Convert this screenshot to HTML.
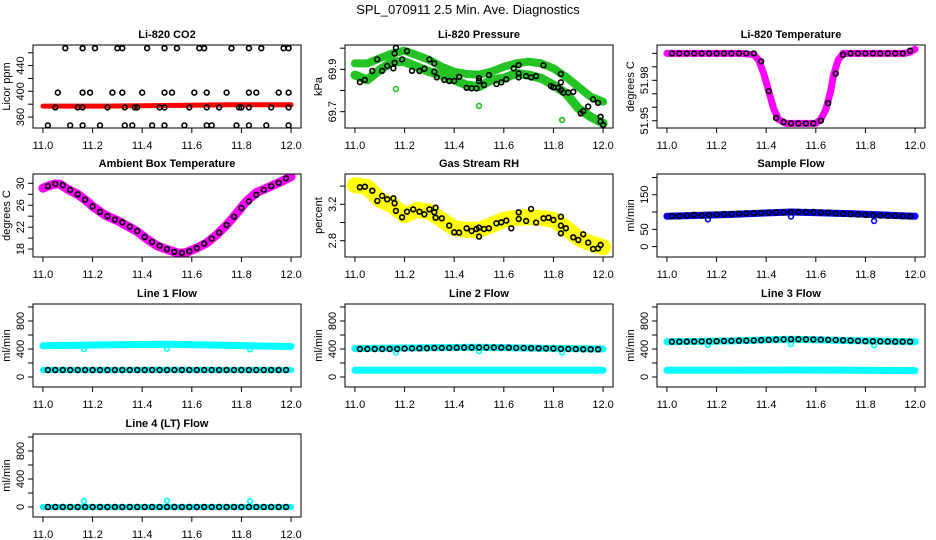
<!DOCTYPE html>
<html><head><meta charset="utf-8">
<style>
html,body{margin:0;padding:0;background:#fff;}
svg{display:block;font-family:"Liberation Sans",Arial,sans-serif;}
</style></head>
<body>
<svg id="chart" width="936" height="540" viewBox="0 0 936 540" xmlns="http://www.w3.org/2000/svg">
<rect x="0" y="0" width="936" height="540" fill="#fff"/>
<text x="468" y="14" text-anchor="middle" font-size="13">SPL_070911  2.5 Min. Ave. Diagnostics</text>
</svg>
<script>
// ---- shared x axis ----
const xTicks = [11.0, 11.2, 11.4, 11.6, 11.8, 12.0];
const xTickLabels = ["11.0", "11.2", "11.4", "11.6", "11.8", "12.0"];
const tGrid = [11.02,11.05,11.08,11.11,11.14,11.17,11.20,11.23,11.26,11.29,11.32,11.35,11.38,11.41,11.44,11.47,11.50,11.53,11.56,11.59,11.62,11.65,11.68,11.71,11.74,11.77,11.80,11.83,11.86,11.89,11.92,11.95,11.98];
const bandX5 = [11.0, 11.25, 11.5, 11.75, 12.0];
const bandX21 = [11.00,11.05,11.10,11.15,11.20,11.25,11.30,11.35,11.40,11.45,11.50,11.55,11.60,11.65,11.70,11.75,11.80,11.85,11.90,11.95,12.00];

// ---- CO2 ----
const co2Band = [377, 377, 378, 379, 379];
const co2X1 = [11.09,11.16,11.21,11.30,11.32,11.42,11.49,11.54,11.63,11.65,11.76,11.83,11.88,11.97,11.99];
const co2Y1 = [467,467,467,467,467,467,467,467,467,467,467,467,467,467,467];
const co2X2 = [11.06,11.16,11.19,11.28,11.32,11.40,11.49,11.52,11.61,11.66,11.74,11.83,11.86,11.95,11.99];
const co2Y2 = [398,398,398,398,398,398,398,398,398,398,398,398,398,398,398];
const co2X3 = [11.05,11.14,11.16,11.26,11.33,11.37,11.38,11.47,11.49,11.59,11.66,11.71,11.79,11.80,11.83,11.92,11.99];
const co2Y3 = [375,375,375,375,375,375,375,375,375,375,375,375,375,375,375,375,375];
const co2X4 = [11.02,11.11,11.16,11.23,11.33,11.36,11.44,11.49,11.57,11.66,11.68,11.78,11.83,11.90,11.99];
const co2Y4 = [347,347,347,347,347,347,347,347,347,347,347,347,347,347,347];

// ---- Pressure ----
const presUpper = [69.928,69.928,69.952,69.975,69.988,69.967,69.944,69.912,69.889,69.878,69.875,69.889,69.912,69.928,69.936,69.928,69.905,69.865,69.818,69.771,69.747];
const presLower = [69.873,69.850,69.897,69.936,69.936,69.912,69.889,69.873,69.850,69.826,69.818,69.850,69.858,69.881,69.873,69.858,69.826,69.787,69.716,69.676,69.645];
const presOutX = [11.165, 11.50, 11.835];
const presOutY = [69.807, 69.728, 69.661];
const presX = [11.02,11.04,11.07,11.09,11.11,11.13,11.155,11.16,11.16,11.165,11.19,11.21,11.23,11.26,11.28,11.30,11.32,11.32,11.33,11.36,11.38,11.40,11.42,11.45,11.47,11.49,11.50,11.50,11.52,11.54,11.57,11.59,11.61,11.64,11.66,11.66,11.66,11.69,11.71,11.73,11.76,11.79,11.80,11.82,11.83,11.83,11.83,11.84,11.86,11.88,11.91,11.92,11.94,11.96,11.98,11.99,11.99,12.0];
const presY = [69.840,69.850,69.892,69.947,69.893,69.916,69.905,69.931,69.975,70.002,69.947,69.986,69.893,69.892,69.903,69.947,69.928,69.889,69.862,69.850,69.845,69.845,69.865,69.813,69.810,69.810,69.858,69.845,69.826,69.873,69.831,69.839,69.853,69.905,69.920,69.881,69.862,69.868,69.862,69.868,69.919,69.821,69.815,69.813,69.878,69.839,69.802,69.790,69.790,69.794,69.692,69.703,69.724,69.758,69.742,69.676,69.653,69.637];

// ---- Li-820 Temperature ----
const tempCurveX = [11.00,11.30,11.35,11.37,11.39,11.41,11.43,11.45,11.48,11.60,11.62,11.64,11.66,11.67,11.69,11.71,11.96,11.98,12.00];
const tempCurveY = [52.000,52.000,51.999,51.995,51.985,51.972,51.959,51.951,51.948,51.948,51.951,51.958,51.972,51.983,51.995,52.000,52.000,52.001,52.003];
const tempBlack = [52.000,52.000,52.000,52.000,52.000,52.000,52.000,52.000,52.000,52.000,52.000,52.000,51.994,51.972,51.952,51.949,51.948,51.948,51.948,51.948,51.950,51.963,51.985,51.999,52.000,52.000,52.000,52.000,52.000,52.000,52.000,52.000,52.002];

// ---- Ambient ----
const ambX = [11.00,11.02,11.05,11.07,11.10,11.14,11.17,11.20,11.25,11.30,11.34,11.38,11.42,11.46,11.50,11.55,11.58,11.62,11.66,11.70,11.74,11.78,11.82,11.86,11.90,11.95,12.00];
const ambY = [29.1,29.5,29.9,29.8,28.9,28.0,27.0,25.8,24.2,23.2,22.2,21.2,19.8,18.6,17.9,17.2,17.4,18.2,19.1,20.6,22.4,24.5,26.7,28.3,29.1,30.1,31.2];
const ambBlack = [29.5,29.9,29.7,28.8,28.0,27.0,25.8,24.8,24.0,23.4,22.9,22.1,21.3,20.2,19.3,18.6,18.0,17.5,17.3,17.6,18.2,19.0,19.9,21.0,22.4,23.9,25.5,26.7,27.9,28.8,29.5,30.1,30.9];

// ---- RH ----
const rhBand = [3.41,3.39,3.25,3.19,3.08,3.14,3.12,3.03,2.94,2.92,2.92,2.97,3.03,3.05,3.06,3.05,3.03,2.94,2.83,2.77,2.73];
const rhX = [11.02,11.04,11.07,11.09,11.11,11.13,11.155,11.16,11.165,11.19,11.21,11.235,11.26,11.28,11.30,11.32,11.325,11.325,11.35,11.38,11.40,11.42,11.45,11.47,11.49,11.50,11.50,11.52,11.54,11.57,11.59,11.61,11.63,11.66,11.66,11.69,11.71,11.73,11.76,11.78,11.80,11.83,11.83,11.83,11.85,11.88,11.90,11.92,11.94,11.96,11.98,11.99];
const rhY = [3.387,3.394,3.350,3.237,3.292,3.255,3.266,3.211,3.127,3.057,3.119,3.145,3.119,3.090,3.145,3.112,3.163,3.053,3.046,2.966,2.892,2.889,2.936,2.907,2.929,2.944,2.845,2.929,2.936,2.991,3.002,3.021,2.936,3.112,3.039,3.017,3.149,2.999,3.046,3.053,3.028,3.064,2.966,2.881,2.936,2.837,2.808,2.870,2.779,2.709,2.716,2.753];

// ---- Sample flow ----
const sfBand = [88, 93, 100, 95, 88];
const sfOutX = [11.165, 11.50, 11.835];
const sfOutY = [79, 87, 74];
const sfBlack = [88,88,90,92,90,91,93,94,94,95,96,97,97,98,99,99,100,100,100,100,99,98,96,95,94,93,92,91,90,89,89,88,87];

// ---- Line flows ----
const l1Upper = [445, 458, 468, 452, 435];
const l1Lower = [100, 100, 102, 100, 100];
const l1Black = [100,100,100,100,100,100,100,100,100,100,100,100,100,100,100,100,100,100,100,100,100,100,100,100,100,100,100,100,100,100,100,100,100];
const l1OutY = [400, 405, 395];
const l2Upper = [405, 415, 425, 410, 400];
const l2Lower = [95, 95, 97, 95, 95];
const l2Black = [400,400,400,400,400,402,405,408,410,412,414,415,416,418,420,421,422,422,421,420,418,416,414,412,410,408,405,402,400,398,396,395,395];
const l2OutY = [350, 370, 350];
const l3Upper = [505, 515, 540, 520, 505];
const l3Lower = [95, 97, 100, 97, 92];
const l3Black = [505,505,506,507,508,510,512,514,516,518,520,522,526,530,534,537,540,540,538,536,534,532,528,524,520,516,512,510,508,506,505,505,505];
const l3OutY = [460, 470, 455];
const l4Band = [0, 0, 0, 0, 0];
const l4Black = [0,0,0,0,0,0,0,0,0,0,0,0,0,0,0,0,0,0,0,0,0,0,0,0,0,0,0,0,0,0,0,0,0];
const l4OutY = [85, 90, 82];
const outX = [11.165, 11.50, 11.835];
const flowTicks = [0, 200, 400, 600, 800, 1000];
const flowLabels = [0, 400, 800];

const NS = "http://www.w3.org/2000/svg";
const svg = document.getElementById("chart");
function mk(tag, attrs, parent) {
  const e = document.createElementNS(NS, tag);
  for (const k in attrs) e.setAttribute(k, attrs[k]);
  (parent || svg).appendChild(e);
  return e;
}
const W = 268, H = 83, XD = [10.96, 12.04];

function panel(cfg) {
  const g = mk("g", {});
  
  
  const L = cfg.L, T = cfg.T;
  const sx = v => L + (v - XD[0]) / (XD[1] - XD[0]) * W;
  const sy = v => T + H - (v - cfg.yd[0]) / (cfg.yd[1] - cfg.yd[0]) * H;
  // title
  const tt = mk("text", {x: L + W / 2, y: T - 7, "text-anchor": "middle", "font-size": 11, "font-weight": "bold"}, g);
  tt.textContent = cfg.title;
  
  
  // y label
  const yl = mk("text", {x: 0, y: 0, "text-anchor": "middle", "font-size": 11, transform: `translate(${L - 23},${T + H / 2}) rotate(-90)`}, g);
  yl.textContent = cfg.ylab;
  
  
  // clip
  const cid = "clip-" + cfg.name;
  const cp = mk("clipPath", {id: cid}, g);
  mk("rect", {x: L, y: T, width: W, height: H}, cp);
  const plot = mk("g", {"clip-path": `url(#${cid})`}, g);
  
  
  // bands
  (cfg.bands || []).forEach(b => {
    const pts = b.x.map((xv, i) => sx(xv).toFixed(1) + "," + sy(b.y[i]).toFixed(1)).join(" ");
    const pl = mk("polyline", {points: pts, fill: "none", stroke: b.c, "stroke-width": b.w, "stroke-linecap": "round", "stroke-linejoin": "round"}, plot);
    
    
  });
  // points
  (cfg.pts || []).forEach(p => {
    const n = Math.min(p.x.length, p.y.length);
    for (let i = 0; i < n; i++) {
      const c = mk("circle", {cx: sx(p.x[i]).toFixed(1), cy: sy(p.y[i]).toFixed(1), r: 2.4, fill: "none", stroke: p.c, "stroke-width": 1.6}, plot);
      
      
    }
  });
  // box
  const bx = mk("rect", {x: L, y: T, width: W, height: H, fill: "none", stroke: "#000", "stroke-width": 1}, g);
  
  
  // x axis
  const xa = mk("g", {}, g);
  
  
  mk("line", {x1: sx(xTicks[0]), x2: sx(xTicks[xTicks.length - 1]), y1: T + H, y2: T + H, stroke: "#000"}, xa);
  xTicks.forEach((v, i) => {
    mk("line", {x1: sx(v), x2: sx(v), y1: T + H, y2: T + H + 5, stroke: "#000"}, xa);
    const t = mk("text", {x: sx(v), y: T + H + 21, "text-anchor": "middle", "font-size": 11}, xa);
    t.textContent = xTickLabels[i];
    
    
  });
  // y axis
  const ya = mk("g", {}, g);
  
  
  const yt = cfg.yticks;
  mk("line", {x1: L, x2: L, y1: sy(yt[0]), y2: sy(yt[yt.length - 1]), stroke: "#000"}, ya);
  yt.forEach(v => mk("line", {x1: L - 5, x2: L, y1: sy(v), y2: sy(v), stroke: "#000"}, ya));
  cfg.ylabels.forEach(v => {
    const t = mk("text", {x: 0, y: 0, "text-anchor": "middle", "font-size": 11, transform: `translate(${L - 9},${sy(v)}) rotate(-90)`}, ya);
    t.textContent = String(v);
    
    
  });
}

const C1 = 33, C2 = 345, C3 = 657, R1 = 45, R2 = 174, R3 = 304, R4 = 434;
const FD = [-143, 1043];

panel({name: "co2", title: "Li-820 CO2", ylab: "Licor ppm", L: C1, T: R1, yd: [343, 472],
  yticks: [360, 380, 400, 420, 440, 460], ylabels: [360, 400, 440],
  bands: [{x: bandX5, y: co2Band, c: "#f00", w: 5}],
  pts: [{x: co2X1, y: co2Y1, c: "#000"}, {x: co2X2, y: co2Y2, c: "#000"}, {x: co2X3, y: co2Y3, c: "#000"}, {x: co2X4, y: co2Y4, c: "#000"}]});

panel({name: "pressure", title: "Li-820 Pressure", ylab: "kPa", L: C2, T: R1, yd: [69.623, 70.015],
  yticks: [69.7, 69.8, 69.9, 70.0], ylabels: ["69.7", "69.9"],
  bands: [{x: bandX21, y: presUpper, c: "#22c322", w: 8}, {x: bandX21, y: presLower, c: "#22c322", w: 9}],
  pts: [{x: presOutX, y: presOutY, c: "#22c322"}, {x: presX, y: presY, c: "#000"}]});

panel({name: "li820-temperature", title: "Li-820 Temperature", ylab: "degrees C", L: C3, T: R1, yd: [51.9446, 52.0062],
  yticks: [51.95, 51.96, 51.97, 51.98, 51.99, 52.00], ylabels: ["51.95", "51.98"],
  bands: [{x: tempCurveX, y: tempCurveY, c: "#ff00ff", w: 7}],
  pts: [{x: tGrid, y: tempBlack, c: "#000"}]});

panel({name: "ambient", title: "Ambient Box Temperature", ylab: "degrees C", L: C1, T: R2, yd: [16.55, 31.7],
  yticks: [18, 20, 22, 24, 26, 28, 30], ylabels: [18, 22, 26, 30],
  bands: [{x: ambX, y: ambY, c: "#ff00ff", w: 9}],
  pts: [{x: tGrid, y: ambBlack, c: "#000"}]});

panel({name: "rh", title: "Gas Stream RH", ylab: "percent", L: C2, T: R2, yd: [2.621, 3.533],
  yticks: [2.8, 3.0, 3.2, 3.4], ylabels: ["2.8", "3.2"],
  bands: [{x: bandX21, y: rhBand, c: "#ffff00", w: 16}],
  pts: [{x: rhX, y: rhY, c: "#000"}]});

panel({name: "sample-flow", title: "Sample Flow", ylab: "ml/min", L: C3, T: R2, yd: [-30, 210],
  yticks: [0, 50, 100, 150, 200], ylabels: [0, 50, 150],
  bands: [{x: bandX5, y: sfBand, c: "#0000ff", w: 7}],
  pts: [{x: sfOutX, y: sfOutY, c: "#0000ff"}, {x: tGrid, y: sfBlack, c: "#000"}]});

panel({name: "line1-flow", title: "Line 1 Flow", ylab: "ml/min", L: C1, T: R3, yd: FD,
  yticks: flowTicks, ylabels: flowLabels,
  bands: [{x: bandX5, y: l1Upper, c: "#00ffff", w: 7}, {x: bandX5, y: l1Lower, c: "#00ffff", w: 6}],
  pts: [{x: outX, y: l1OutY, c: "#00ffff"}, {x: tGrid, y: l1Black, c: "#000"}]});

panel({name: "line2-flow", title: "Line 2 Flow", ylab: "ml/min", L: C2, T: R3, yd: FD,
  yticks: flowTicks, ylabels: flowLabels,
  bands: [{x: bandX5, y: l2Upper, c: "#00ffff", w: 7}, {x: bandX5, y: l2Lower, c: "#00ffff", w: 7}],
  pts: [{x: outX, y: l2OutY, c: "#00ffff"}, {x: tGrid, y: l2Black, c: "#000"}]});

panel({name: "line3-flow", title: "Line 3 Flow", ylab: "ml/min", L: C3, T: R3, yd: FD,
  yticks: flowTicks, ylabels: flowLabels,
  bands: [{x: bandX5, y: l3Upper, c: "#00ffff", w: 7}, {x: bandX5, y: l3Lower, c: "#00ffff", w: 7}],
  pts: [{x: outX, y: l3OutY, c: "#00ffff"}, {x: tGrid, y: l3Black, c: "#000"}]});

panel({name: "line4-flow", title: "Line 4 (LT) Flow", ylab: "ml/min", L: C1, T: R4, yd: FD,
  yticks: flowTicks, ylabels: flowLabels,
  bands: [{x: bandX5, y: l4Band, c: "#00ffff", w: 6}],
  pts: [{x: outX, y: l4OutY, c: "#00ffff"}, {x: tGrid, y: l4Black, c: "#000"}]});
</script>
</body></html>
